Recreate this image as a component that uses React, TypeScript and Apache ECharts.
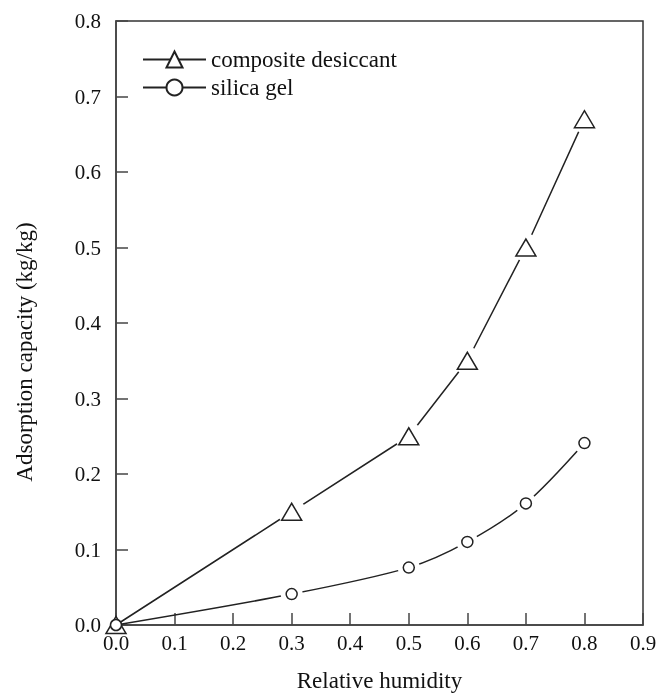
import React, { useEffect, useRef } from "react";
import * as echarts from "echarts";

const humidity = [0.0, 0.3, 0.5, 0.6, 0.7, 0.8];
const compositeValues = [0.0, 0.15, 0.25, 0.35, 0.5, 0.67];
const silicaValues = [0.0, 0.041, 0.076, 0.11, 0.161, 0.241];
const xTicks = ["0.0", "0.1", "0.2", "0.3", "0.4", "0.5", "0.6", "0.7", "0.8", "0.9"];
const yTicks = ["0.0", "0.1", "0.2", "0.3", "0.4", "0.5", "0.6", "0.7", "0.8"];

const FONT = "Liberation Serif";
const INK = "#222";

const svgImage = (s: string) => "image://data:image/svg+xml;charset=utf-8," + encodeURIComponent(s);
const TRI_HALO = svgImage(
  "<svg xmlns='http://www.w3.org/2000/svg' width='30' height='30'><circle cx='15' cy='15' r='14' fill='white'/><polygon points='5,23.5 25,23.5 15,6.5' fill='white' stroke='#222' stroke-width='1.5'/></svg>"
);
const CIRC_HALO = svgImage(
  "<svg xmlns='http://www.w3.org/2000/svg' width='24' height='24'><circle cx='12' cy='12' r='11' fill='white'/><circle cx='12' cy='12' r='5.5' fill='white' stroke='#222' stroke-width='1.5'/></svg>"
);

export default function App() {
  const ref = useRef<HTMLDivElement>(null);
  useEffect(() => {
    if (!ref.current) return;
    const chart = echarts.init(ref.current, null, { renderer: "svg" });
    const comp = humidity.map((x, i) =>
      i === 0
        ? { value: [x, compositeValues[i]], symbol: "triangle", symbolSize: [20, 17] }
        : { value: [x, compositeValues[i]] }
    );
    const sil = humidity.map((x, i) =>
      i === 0 ? { value: [x, silicaValues[i]], symbol: "circle", symbolSize: 11 } : { value: [x, silicaValues[i]] }
    );
    const offscreen = [[-1, -1], [-0.5, -1]];
    chart.setOption({
      animation: false,
      grid: { left: 116, right: 17, top: 21, bottom: 72, show: true, borderColor: "#333", borderWidth: 1.5 },
      legend: {
        orient: "vertical",
        left: 137,
        top: 43,
        itemWidth: 63,
        itemHeight: 20,
        itemGap: 5,
        data: ["composite desiccant", "silica gel"],
        textStyle: { fontFamily: FONT, fontSize: 23, color: "#111" },
      },
      xAxis: {
        type: "value",
        min: 0,
        max: 0.9,
        interval: 0.1,
        name: "Relative humidity",
        nameLocation: "middle",
        nameGap: 44,
        nameTextStyle: { fontFamily: FONT, fontSize: 23, color: "#111" },
        axisLine: { lineStyle: { color: "#444", width: 1.5 } },
        axisTick: { inside: true, length: 12, lineStyle: { color: "#444", width: 1.5 } },
        axisLabel: {
          fontFamily: FONT,
          fontSize: 21,
          color: "#111",
          margin: 7,
          formatter: (v: number) => xTicks[Math.round(v * 10)] || "",
        },
        splitLine: { show: false },
      },
      yAxis: {
        type: "value",
        min: 0,
        max: 0.8,
        interval: 0.1,
        name: "Adsorption capacity (kg/kg)",
        nameLocation: "middle",
        nameGap: 80,
        nameTextStyle: { fontFamily: FONT, fontSize: 23, color: "#111", padding: [0, 0, 0, -58] },
        axisLine: { show: true, lineStyle: { color: "#444", width: 1.5 } },
        axisTick: { show: true, inside: true, length: 12, lineStyle: { color: "#444", width: 1.5 } },
        axisLabel: {
          fontFamily: FONT,
          fontSize: 21,
          color: "#111",
          margin: 15,
          formatter: (v: number) => yTicks[Math.round(v * 10)] || "",
        },
        splitLine: { show: false },
      },
      series: [
        {
          name: "composite desiccant",
          type: "line",
          data: offscreen,
          symbol: "triangle",
          symbolSize: [20, 17],
          lineStyle: { color: INK, width: 1.5 },
          itemStyle: { color: "#fff", borderColor: INK, borderWidth: 1.5 },
        },
        {
          name: "silica gel",
          type: "line",
          data: offscreen,
          symbol: "circle",
          symbolSize: 11,
          lineStyle: { color: INK, width: 1.5 },
          itemStyle: { color: "#fff", borderColor: INK, borderWidth: 1.5 },
        },
        {
          name: "composite desiccant",
          type: "line",
          data: comp,
          symbol: TRI_HALO,
          symbolSize: 30,
          lineStyle: { color: INK, width: 1.5 },
          itemStyle: { color: "#fff", borderColor: INK, borderWidth: 1.5 },
        },
        {
          name: "silica gel",
          type: "line",
          data: sil,
          smooth: 0.3,
          symbol: CIRC_HALO,
          symbolSize: 24,
          lineStyle: { color: INK, width: 1.5 },
          itemStyle: { color: "#fff", borderColor: INK, borderWidth: 1.5 },
        },
      ],
    });
    return () => chart.dispose();
  }, []);
  return <div ref={ref} style={{ position: "fixed", left: 0, top: 0, width: 660, height: 697 }} />;
}
